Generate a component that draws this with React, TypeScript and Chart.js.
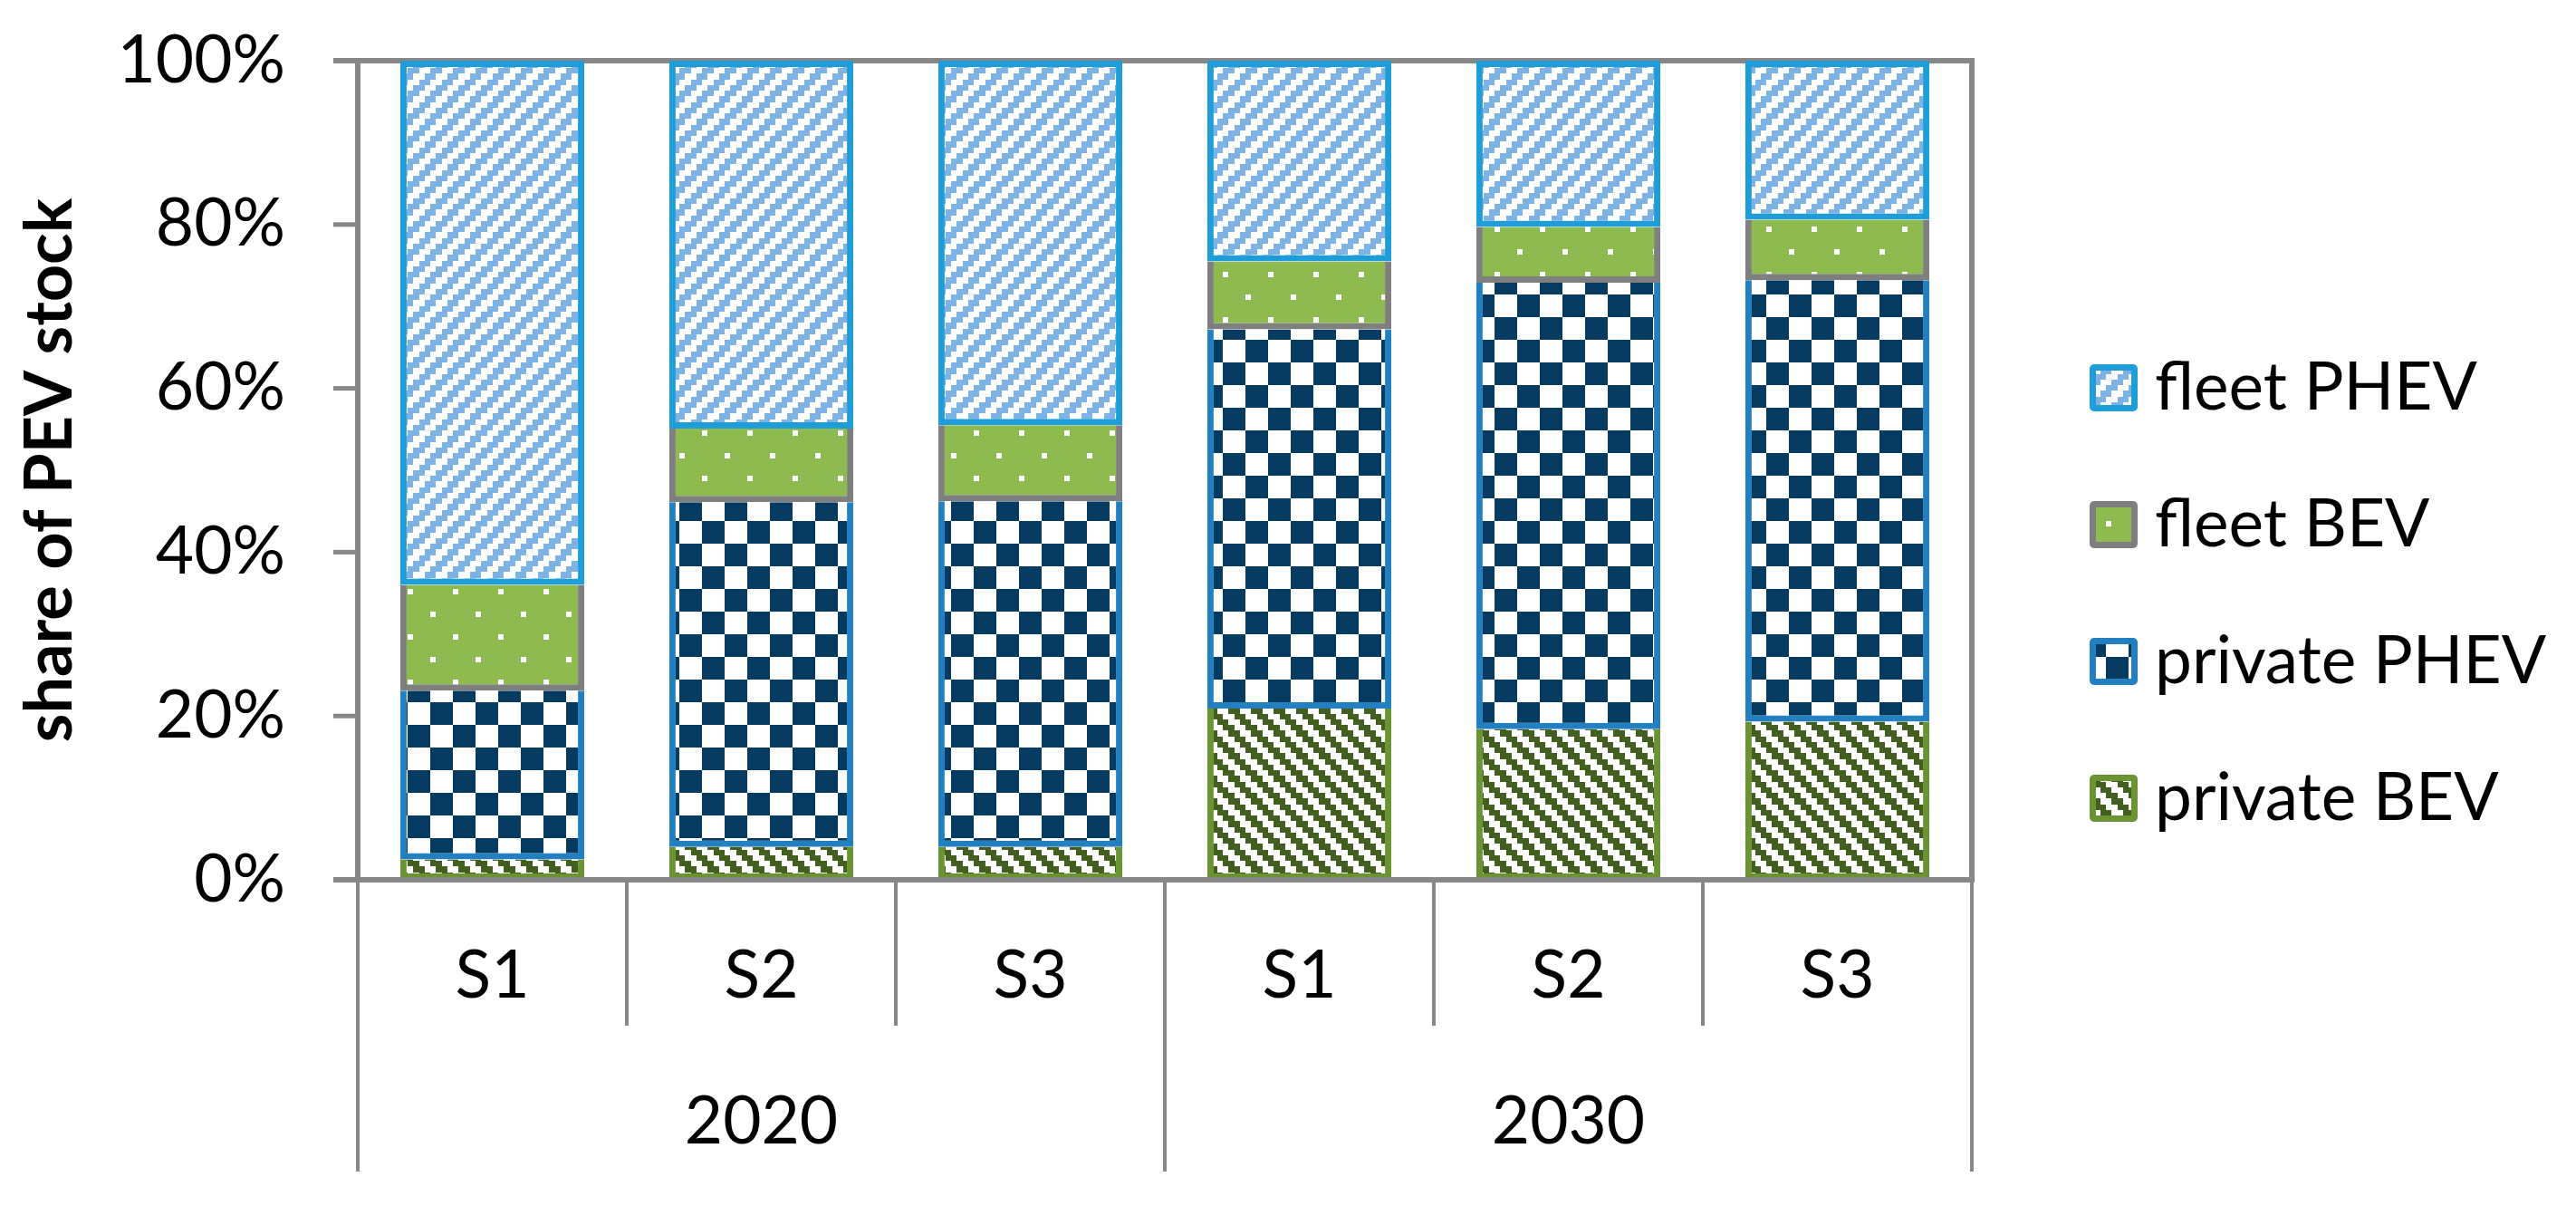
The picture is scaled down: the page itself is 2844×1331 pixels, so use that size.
import React, { useEffect, useRef } from 'react';
import { Chart, registerables } from 'chart.js';

Chart.register(...registerables);

// ---- data ----
const categories = ['S1', 'S2', 'S3', 'S1', 'S2', 'S3'];
const years = ['2020', '2030'];
const yTicks = [0, 20, 40, 60, 80, 100];
const privateBEV = [2.5, 4.0, 4.0, 20.9, 18.4, 19.3];
const privatePHEV = [20.6, 42.1, 42.2, 46.3, 54.5, 53.9];
const fleetBEV = [12.9, 9.0, 9.3, 8.3, 6.8, 7.4];
const fleetPHEV = [64.0, 44.9, 44.5, 24.5, 20.3, 19.4];
const seriesNames = ['private BEV', 'private PHEV', 'fleet BEV', 'fleet PHEV'];

const GRAY = '#878787';
const FONT = 'Lato';
const FS = 73;

function tile(draw: (g: CanvasRenderingContext2D) => void): HTMLCanvasElement {
  const c = document.createElement('canvas');
  c.width = 50;
  c.height = 50;
  const g = c.getContext('2d')!;
  draw(g);
  return c;
}

function stripeTile(color: string, dir: number) {
  return tile((g) => {
    g.fillStyle = '#ffffff';
    g.fillRect(0, 0, 50, 50);
    g.fillStyle = color;
    const s = 50 / 8;
    const e = (i: number) => Math.round(i * s);
    for (let k = 0; k < 8; k++) {
      for (const j of [0, 4]) {
        for (const d of [0, 1]) {
          const col = (((j + d + dir * k) % 8) + 8) % 8;
          g.fillRect(e(col), e(k), e(col + 1) - e(col), e(k + 1) - e(k));
        }
      }
    }
  });
}

function checkerTile(color: string) {
  return tile((g) => {
    g.fillStyle = '#ffffff';
    g.fillRect(0, 0, 50, 50);
    g.fillStyle = color;
    g.fillRect(0, 0, 25, 25);
    g.fillRect(25, 25, 25, 25);
  });
}

function dotTile(color: string) {
  return tile((g) => {
    g.fillStyle = color;
    g.fillRect(0, 0, 50, 50);
    g.fillStyle = '#ffffff';
    g.fillRect(0, 0, 6, 6);
    g.fillRect(25, 25, 6, 6);
  });
}

const framePlugin = {
  id: 'frameLines',
  beforeDatasetsDraw(chart: any) {
    const { ctx, chartArea: ca, scales } = chart;
    const y = scales.y;
    ctx.save();
    ctx.strokeStyle = GRAY;
    ctx.lineCap = 'butt';
    const line = (x1: number, y1: number, x2: number, y2: number) => {
      ctx.beginPath();
      ctx.moveTo(x1, y1);
      ctx.lineTo(x2, y2);
      ctx.stroke();
    };
    ctx.lineWidth = 5;
    for (const t of yTicks) {
      const py = y.getPixelForValue(t);
      line(ca.left - 27, py, ca.left, py);
    }
    ctx.lineWidth = 6;
    line(ca.left - 27, ca.top, ca.right + 3, ca.top);
    line(ca.left, ca.top - 3, ca.left, ca.bottom);
    line(ca.right, ca.top - 3, ca.right, ca.bottom);
    ctx.restore();
  },
  afterDatasetsDraw(chart: any) {
    const { ctx, chartArea: ca, scales } = chart;
    const x = scales.x;
    const x2 = scales.x2;
    ctx.save();
    ctx.strokeStyle = GRAY;
    ctx.lineCap = 'butt';
    const line = (x1: number, y1: number, xe: number, y2: number) => {
      ctx.beginPath();
      ctx.moveTo(x1, y1);
      ctx.lineTo(xe, y2);
      ctx.stroke();
    };
    ctx.lineWidth = 6;
    line(ca.left - 27, ca.bottom, ca.right + 3, ca.bottom);
    ctx.lineWidth = 4;
    const n = categories.length;
    for (let i = 0; i <= n; i++) {
      let px: number;
      if (i === 0) px = ca.left;
      else if (i === n) px = ca.right;
      else px = (x.getPixelForValue(i - 1) + x.getPixelForValue(i)) / 2;
      const long = i % 3 === 0;
      const end = long ? x2.bottom - 38 : x.bottom - 28;
      line(px, ca.bottom, px, end);
    }
    ctx.restore();
  },
};

const legendPlugin = {
  id: 'sideLegend',
  afterDraw(chart: any) {
    const { ctx, chartArea: ca } = chart;
    const items = chart.data.datasets.map((d: any) => d).reverse();
    ctx.save();
    items.forEach((ds: any, i: number) => {
      const cy = ca.top + 361 + i * 151;
      const x0 = ca.right + 130;
      const w = 53;
      const h = 52;
      const top = cy - h / 2;
      ctx.fillStyle = ds.borderColor;
      ctx.beginPath();
      if ((ctx as any).roundRect) (ctx as any).roundRect(x0, top, w, h, 5);
      else ctx.rect(x0, top, w, h);
      ctx.fill();
      ctx.fillStyle = ds.backgroundColor;
      ctx.fillRect(x0 + 7, top + 7, w - 14, h - 14);
      ctx.fillStyle = '#000000';
      ctx.font = `${FS}px ${FONT}`;
      ctx.textAlign = 'left';
      ctx.textBaseline = 'middle';
      ctx.fillText(ds.label, x0 + 72, cy);
    });
    ctx.restore();
  },
};

export default function App() {
  const ref = useRef<HTMLCanvasElement | null>(null);

  useEffect(() => {
    const canvas = ref.current!;
    const ctx = canvas.getContext('2d')!;
    const pat = (c: HTMLCanvasElement) => ctx.createPattern(c, 'repeat')!;
    const fills = [
      pat(stripeTile('#435F1F', 1)),
      pat(checkerTile('#053B61')),
      pat(dotTile('#8DBB50')),
      pat(stripeTile('#7DB2E4', -1)),
    ];
    const borders = ['#6A9431', '#2380C0', '#7F7F7F', '#1F9DD9'];
    const values = [privateBEV, privatePHEV, fleetBEV, fleetPHEV];

    Chart.defaults.font.family = FONT;

    const chart = new Chart(ctx, {
      type: 'bar',
      data: {
        labels: categories,
        datasets: values.map((v, i) => ({
          label: seriesNames[i],
          data: v,
          backgroundColor: fills[i] as any,
          borderColor: borders[i],
          borderWidth: { top: i === 3 ? 7 : 0, left: 7, right: 7, bottom: 7 },
          borderSkipped: false,
          barPercentage: 0.684,
          categoryPercentage: 1,
        })),
      },
      options: {
        responsive: false,
        animation: false,
        events: [],
        layout: { padding: { left: 0, top: 67, right: 667, bottom: 0 } },
        plugins: {
          legend: { display: false },
          tooltip: { enabled: false },
        },
        scales: {
          x: {
            type: 'category',
            position: 'bottom',
            stacked: true,
            weight: 0,
            grid: { display: false, drawTicks: false },
            border: { display: false },
            ticks: {
              color: '#000000',
              font: { family: FONT, size: FS },
              padding: 63,
              maxRotation: 0,
              autoSkip: false,
            },
            afterFit: (s: any) => {
              s.height = 189;
              s.paddingLeft = 0;
              s.paddingRight = 0;
            },
          },
          x2: {
            type: 'category',
            position: 'bottom',
            labels: years,
            offset: true,
            weight: 1,
            grid: { display: false, drawTicks: false },
            border: { display: false },
            ticks: {
              color: '#000000',
              font: { family: FONT, size: FS },
              padding: 35,
              maxRotation: 0,
              autoSkip: false,
            },
            afterFit: (s: any) => {
              s.height = 171;
              s.paddingLeft = 0;
              s.paddingRight = 0;
            },
          },
          y: {
            type: 'linear',
            position: 'left',
            stacked: true,
            min: 0,
            max: 100,
            grid: { display: false, drawTicks: false },
            border: { display: false },
            ticks: {
              stepSize: 20,
              color: '#000000',
              font: { family: FONT, size: FS },
              padding: 80,
              callback: (v: any) => `${v}%`,
            },
            title: {
              display: true,
              text: 'share of PEV stock',
              color: '#000000',
              font: { family: FONT, size: 72, weight: 'bold' },
              padding: { top: 13, bottom: 0 },
            },
            afterFit: (s: any) => {
              s.width = 395;
              s.paddingTop = 0;
              s.paddingBottom = 0;
            },
          },
        },
      } as any,
      plugins: [framePlugin, legendPlugin],
    });
    return () => chart.destroy();
  }, []);

  return (
    <div style={{ position: 'fixed', left: 0, top: 0, width: 2844, height: 1331, background: '#ffffff' }}>
      <canvas ref={ref} width={2844} height={1331} style={{ width: 2844, height: 1331, display: 'block' }} />
    </div>
  );
}
